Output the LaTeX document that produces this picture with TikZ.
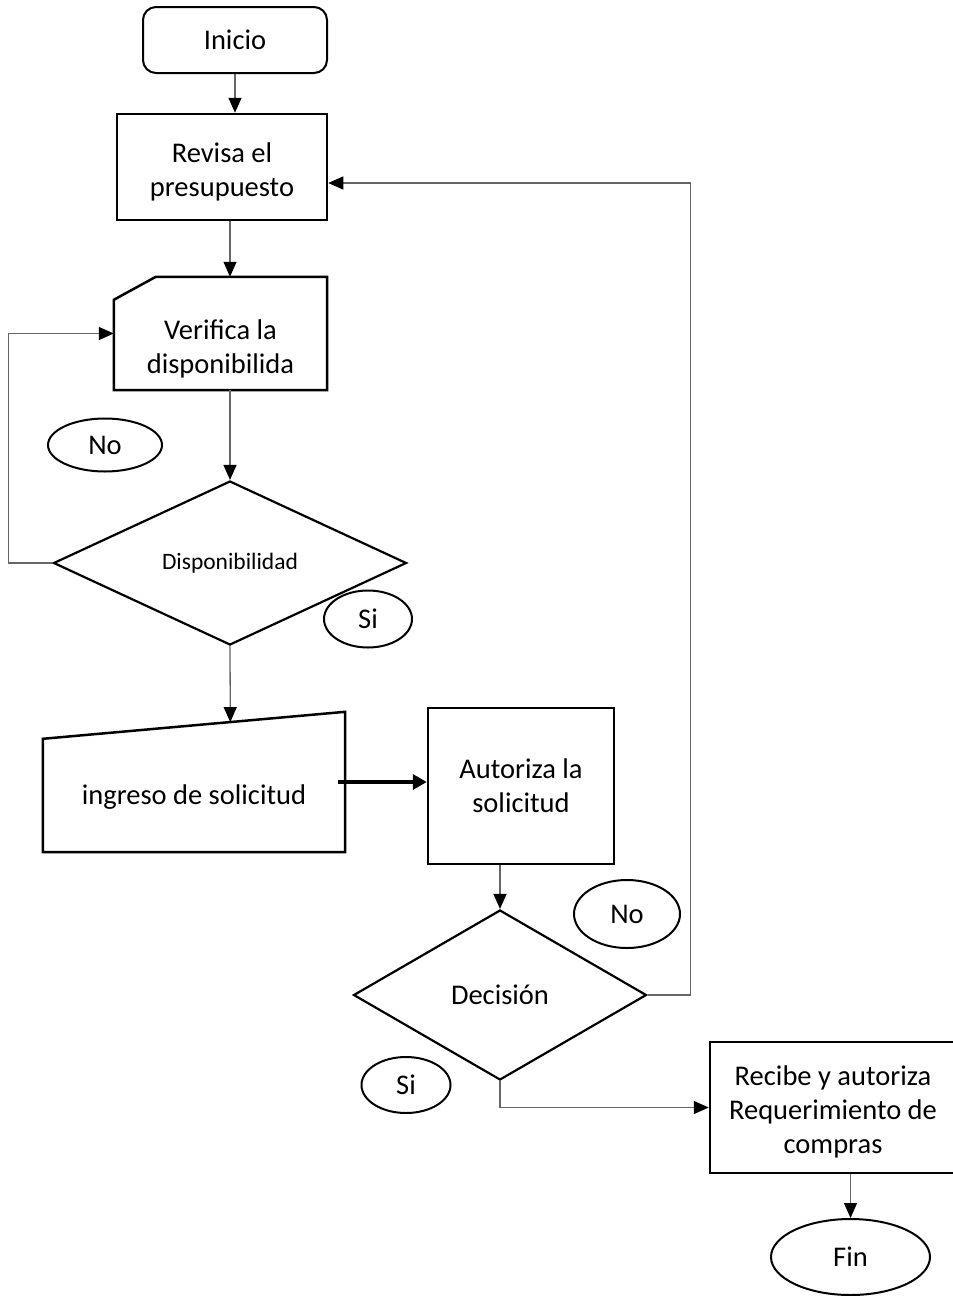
\documentclass[tikz,border=0pt]{standalone}
\usepackage{fontspec}
\setmainfont{Carlito}
\usetikzlibrary{shapes.geometric,arrows.meta,calc}

\newcommand{\topgap}[1]{\rule{0pt}{#1}}

\tikzset{
  every node/.style={font=\fontsize{28.5}{34}\selectfont, align=center, inner sep=0pt},
  term/.style={draw, line width=2pt, rounded corners=13pt},
  proc/.style={draw, line width=2.5pt, rectangle},
  dec/.style={draw, line width=2.2pt, diamond},
  tag/.style={draw, line width=2pt, ellipse},
  outline/.style={draw, line width=2.5pt, line join=miter},
  flow/.style={draw=black!60, line width=1.3pt, -{Triangle[width=13pt,length=15pt,color=black]}},
  thickflow/.style={draw=black, line width=3.5pt, -{Triangle[width=15pt,length=14pt]}},
}

\begin{document}
\begin{tikzpicture}[x=1pt,y=-1pt]
\useasboundingbox (0,0) rectangle (953,1296);

% left column
\node[term, minimum width=184pt, minimum height=66pt] (inicio) at (235,40) {Inicio};
\node[proc, minimum width=210pt, minimum height=106pt] (revisa) at (222,167) {\topgap{30pt}Revisa el\\presupuesto};
\node[minimum width=213pt, minimum height=113pt] (verifica) at (220.5,333.5) {\topgap{50pt}Verifica la\\disponibilida};
\draw[outline] (verifica.south west) -- ($(verifica.north west)+(0,23)$) -- ($(verifica.north west)+(42,0)$) -- (verifica.north east) -- (verifica.south east) -- cycle;
\node[dec, minimum width=353pt, minimum height=164pt, font=\fontsize{23.5}{28}\selectfont] (dispo) at (230,563) {Disponibilidad};
\node[tag, minimum width=114pt, minimum height=53pt] (no1) at (105,445) {No};
\node[tag, minimum width=88pt, minimum height=57pt] (si1) at (368,619) {Si};
\node[minimum width=302pt, minimum height=140pt, text height=51pt, text depth=7pt] (ingreso) at (194,782) {ingreso de solicitud};
\draw[outline] (ingreso.south west) -- ($(ingreso.north west)+(0,27)$) -- (ingreso.north east) -- (ingreso.south east) -- cycle;
\coordinate (ingresotop) at ($($(ingreso.north west)+(0,27)$)!0.62!(ingreso.north east)$);

% right part
\node[proc, minimum width=186pt, minimum height=156pt] (autoriza) at (521,786) {Autoriza la\\solicitud};
\node[dec, minimum width=293pt, minimum height=170pt] (decision) at (500,995) {Decisión};
\node[tag, minimum width=106pt, minimum height=68pt] (no2) at (627,914) {No};
\node[tag, minimum width=89pt, minimum height=56pt] (si2) at (406,1085) {Si};
\node[proc, minimum width=246pt, minimum height=131pt] (recibe) at (833,1107.5) {\topgap{28pt}Recibe y autoriza\\Requerimiento de\\compras};
\node[tag, minimum width=159pt, minimum height=76pt] (fin) at (850.5,1257) {Fin};

% connectors
\draw[flow] (inicio.south) -- (inicio.south |- revisa.north);
\draw[flow] (revisa.south -| dispo.north) -- (verifica.north -| dispo.north);
\draw[flow] (verifica.south -| dispo.north) -- (dispo.north);
\draw[flow] (dispo.west) -- ++(-44,0) |- (verifica.west);
\draw[flow] (dispo.south) -- (ingresotop);
\draw[thickflow] ($(ingreso.east)+(-7,0)$) -- (ingreso.east -| autoriza.west);
\draw[flow] (autoriza.south -| decision.north) -- (decision.north);
\draw[flow] (decision.east) -- ++(43,0) |- ($(revisa.east)+(0,16)$);
\draw[flow] (decision.south) |- (recibe.west);
\draw[flow] (recibe.south -| fin.north) -- (fin.north);
\end{tikzpicture}
\end{document}
